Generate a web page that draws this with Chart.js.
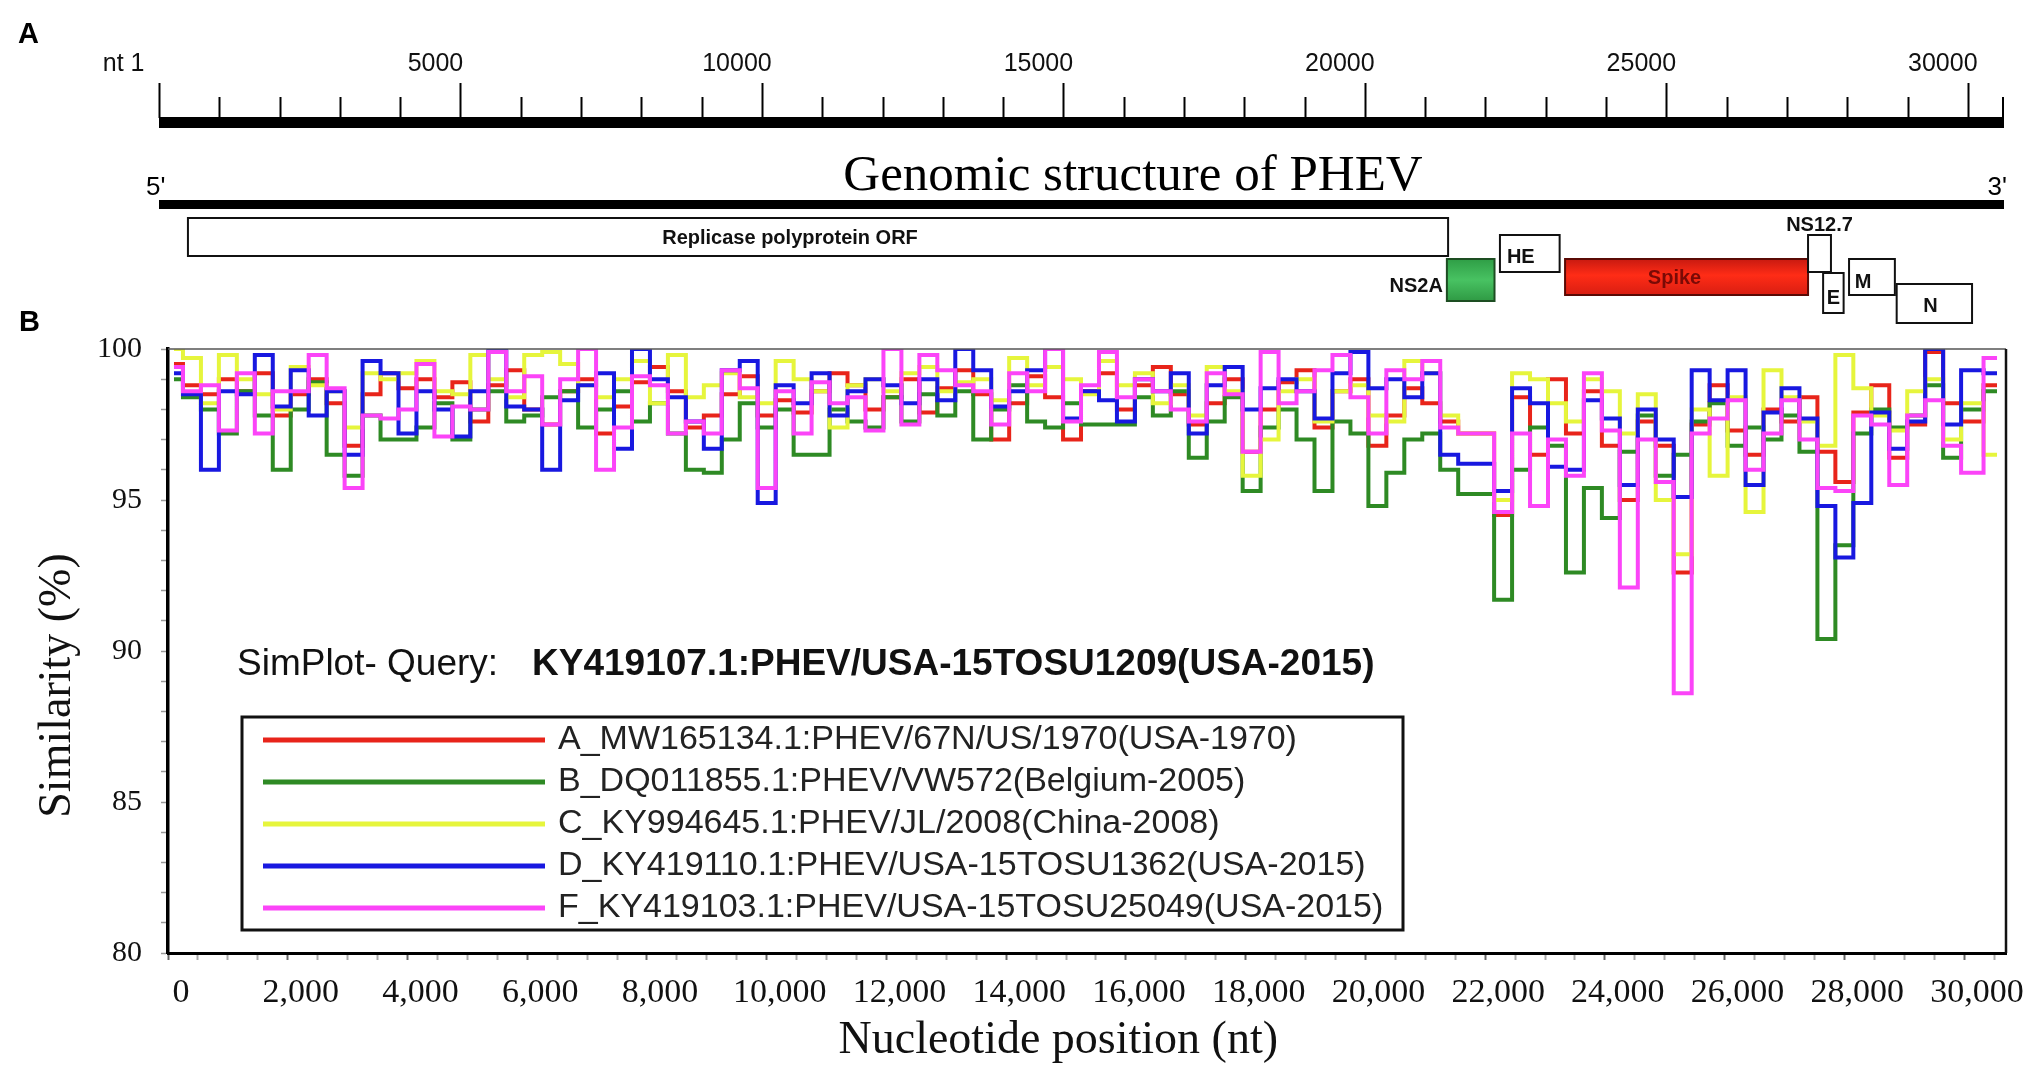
<!DOCTYPE html>
<html>
<head>
<meta charset="utf-8">
<title>PHEV genome and SimPlot similarity</title>
<script src="https://cdn.jsdelivr.net/npm/chart.js@4.4.1/dist/chart.umd.min.js"></script>
<style>
  html, body { margin: 0; padding: 0; background: #fff; overflow: hidden; }
  canvas { position: absolute; left: 0; top: 0; }
</style>
</head>
<body>
<canvas id="plotB" width="2033" height="1071"></canvas>
<canvas id="plotA" width="2033" height="340"></canvas>
<script>
const SANS = "'Liberation Sans', Arial, sans-serif";
const SERIF = "'Liberation Serif', 'Times New Roman', serif";

// ---- panel A: genome map (nt coordinates) ----
const geneNames = ['Replicase polyprotein ORF', 'NS2A', 'HE', 'Spike', 'NS12.7', 'E', 'M', 'N'];
const geneStart = [480, 21360, 22240, 23320, 27350, 27600, 28030, 28820];
const geneEnd   = [21380, 22150, 23230, 27350, 27730, 27940, 28790, 30070];

// ---- panel B: similarity plot ----
const positions = [100, 400, 700, 1000, 1300, 1600, 1900, 2200, 2500, 2800,
  3100, 3400, 3700, 4000, 4300, 4600, 4900, 5200, 5500, 5800,
  6100, 6400, 6700, 7000, 7300, 7600, 7900, 8200, 8500, 8800,
  9100, 9400, 9700, 10000, 10300, 10600, 10900, 11200, 11500, 11800,
  12100, 12400, 12700, 13000, 13300, 13600, 13900, 14200, 14500, 14800,
  15100, 15400, 15700, 16000, 16300, 16600, 16900, 17200, 17500, 17800,
  18100, 18400, 18700, 19000, 19300, 19600, 19900, 20200, 20500, 20800,
  21100, 21400, 21700, 22000, 22300, 22600, 22900, 23200, 23500, 23800,
  24100, 24400, 24700, 25000, 25300, 25600, 25900, 26200, 26500, 26800,
  27100, 27400, 27700, 28000, 28300, 28600, 28900, 29200, 29500, 29800,
  30100, 30550];

const simA = [99.5, 98.8, 98.5, 99.0, 98.6, 99.2, 97.8, 98.5, 99.0, 98.2,
  96.8, 98.5, 99.2, 98.7, 99.0, 98.4, 98.9, 97.6, 98.8, 99.3,
  98.0, 97.5, 98.6, 99.0, 97.2, 98.1, 98.9, 99.4, 98.6, 97.4,
  97.8, 98.5, 99.1, 97.8, 98.3, 97.9, 98.6, 99.2, 98.8, 98.0,
  98.4, 99.0, 97.9, 98.7, 99.3, 98.5, 97.0, 98.2, 99.1, 98.4,
  97.0, 98.6, 99.2, 98.0, 98.8, 99.4, 98.5, 97.5, 98.2, 99.0,
  96.6, 98.0, 98.9, 99.3, 97.4, 98.6, 99.0, 96.8, 97.8, 98.7,
  98.2, 97.6, 97.2, 97.2, 94.5, 98.4, 96.5, 99.0, 97.2, 98.6,
  96.8, 95.0, 97.6, 96.8, 92.6, 97.5, 98.8, 97.3, 96.5, 98.0,
  97.6, 98.4, 96.6, 95.6, 97.9, 98.8, 96.4, 97.5, 99.9, 98.2,
  97.6, 98.8];

const simB = [99.0, 98.4, 98.0, 97.2, 98.6, 97.8, 96.0, 98.0, 98.9, 96.5,
  95.8, 97.8, 97.0, 97.0, 97.4, 98.2, 97.0, 98.0, 98.6, 97.6,
  97.8, 98.4, 98.6, 97.4, 98.0, 98.6, 97.6, 98.2, 97.2, 96.0,
  95.9, 97.0, 98.2, 97.4, 98.0, 96.5, 96.5, 98.0, 97.6, 97.4,
  98.4, 97.6, 98.5, 97.8, 98.6, 97.0, 98.0, 98.8, 97.6, 97.4,
  98.2, 97.5, 97.5, 97.5, 98.4, 97.8, 98.6, 96.4, 97.6, 98.4,
  95.3, 97.4, 98.0, 97.0, 95.3, 97.6, 97.2, 94.8, 95.9, 97.0,
  97.2, 96.0, 95.2, 95.2, 91.7, 96.0, 97.4, 96.8, 92.6, 95.4,
  94.4, 96.6, 97.8, 95.8, 96.5, 97.6, 98.2, 96.8, 97.4, 97.0,
  97.8, 96.6, 90.4, 93.5, 97.2, 98.0, 97.4, 97.8, 98.8, 96.4,
  98.0, 98.6];

const simC = [100, 99.7, 98.2, 99.8, 99.0, 98.5, 98.0, 99.4, 98.8, 98.6,
  97.4, 99.2, 99.0, 99.2, 99.6, 98.6, 98.5, 99.8, 99.0, 98.4,
  99.8, 99.9, 99.5, 98.8, 98.4, 99.0, 99.6, 98.2, 99.8, 98.4,
  98.8, 99.2, 98.4, 98.2, 99.6, 99.0, 98.6, 97.4, 98.8, 99.0,
  98.6, 99.2, 99.4, 98.6, 98.9, 99.0, 98.3, 99.7, 98.8, 99.4,
  99.0, 98.5, 99.6, 98.8, 99.2, 98.2, 98.8, 97.8, 99.4, 98.6,
  95.8, 97.0, 98.6, 99.0, 97.6, 98.6, 98.8, 97.8, 97.6, 99.6,
  99.2, 97.8, 97.2, 97.2, 95.0, 99.2, 99.0, 98.2, 97.6, 99.0,
  98.6, 97.2, 98.5, 95.0, 93.2, 98.0, 95.8, 98.4, 94.6, 99.3,
  98.4, 97.6, 96.8, 99.8, 98.7, 97.8, 97.3, 98.6, 99.0, 97.0,
  98.2, 96.5];

const simD = [99.2, 98.5, 96.0, 98.6, 98.5, 99.8, 98.1, 99.3, 97.8, 98.6,
  96.5, 99.6, 99.2, 97.2, 98.6, 98.0, 97.1, 98.6, 100, 98.1,
  98.0, 96.0, 98.3, 98.8, 99.2, 96.7, 100, 99.0, 98.4, 97.6,
  96.7, 99.3, 99.6, 94.9, 98.8, 98.2, 99.2, 97.8, 98.6, 99.0,
  98.8, 98.2, 99.0, 98.3, 100, 99.3, 98.1, 98.6, 99.3, 100,
  97.7, 98.6, 98.3, 97.6, 99.0, 98.6, 99.2, 97.2, 98.8, 99.4,
  98.0, 98.7, 99.0, 98.6, 97.7, 99.2, 99.9, 98.7, 99.0, 98.4,
  99.2, 96.5, 96.2, 96.2, 95.3, 98.7, 98.2, 96.1, 96.0, 98.3,
  97.7, 95.5, 98.0, 97.0, 95.1, 99.3, 98.3, 99.3, 95.5, 97.9,
  98.7, 97.7, 94.8, 93.1, 94.9, 97.9, 96.7, 97.6, 100, 97.5,
  99.3, 99.2];

const simF = [99.4, 98.6, 98.8, 97.3, 99.2, 97.2, 98.6, 98.6, 99.8, 98.7,
  95.4, 97.8, 97.7, 98.0, 99.5, 97.1, 98.1, 98.0, 99.9, 98.6,
  99.1, 97.5, 99.0, 100, 96.0, 97.4, 99.1, 98.8, 97.2, 97.6,
  97.2, 99.3, 98.7, 95.4, 98.6, 97.2, 98.9, 98.2, 98.4, 97.3,
  100, 97.5, 99.8, 99.3, 98.8, 98.6, 97.5, 99.2, 98.6, 100,
  97.6, 98.8, 99.9, 98.4, 99.0, 98.6, 98.0, 97.6, 99.2, 98.5,
  96.6, 99.9, 98.2, 98.6, 99.3, 99.8, 98.4, 97.2, 99.3, 99.0,
  99.6, 97.4, 97.2, 97.2, 94.6, 97.2, 94.8, 97.0, 95.8, 99.2,
  97.3, 92.1, 97.0, 95.6, 88.6, 97.2, 97.7, 98.3, 96.0, 97.2,
  98.3, 97.0, 95.4, 95.3, 97.8, 97.5, 95.5, 97.8, 98.3, 96.8,
  95.9, 99.7];

const seriesLabels = [
  'A_MW165134.1:PHEV/67N/US/1970(USA-1970)',
  'B_DQ011855.1:PHEV/VW572(Belgium-2005)',
  'C_KY994645.1:PHEV/JL/2008(China-2008)',
  'D_KY419110.1:PHEV/USA-15TOSU1362(USA-2015)',
  'F_KY419103.1:PHEV/USA-15TOSU25049(USA-2015)'
];
const seriesValues = [simA, simB, simC, simD, simF];
const seriesColors = ['#e8241a', '#2e8a24', '#e6f53c', '#1818e0', '#fb44f8'];

const queryPrefix = 'SimPlot- Query:';
const queryName = 'KY419107.1:PHEV/USA-15TOSU1209(USA-2015)';

// layout of the genome map (pixels, not data)
const geneTop    = [218, 259, 235, 259, 235, 273, 259, 284];
const geneHeight = [38, 42, 37, 36, 37, 40, 36, 39];
const geneLabelDx = [-28, 0, -9, -12, 0, 0, -9, -4];
const geneLabelY  = [238, 286, 257, 278, 225, 298, 282, 306];

const genomeMap = {
  id: 'genomeMap',
  afterDraw(chart) {
    const { ctx } = chart;
    const xs = chart.scales.x;
    const px = v => xs.getPixelForValue(v);
    ctx.save();

    // panel letters
    ctx.fillStyle = '#000';
    ctx.font = 'bold 29px ' + SANS;
    ctx.textAlign = 'left';
    ctx.textBaseline = 'alphabetic';
    ctx.fillText('A', 18, 43);
    ctx.fillText('B', 19, 331);

    // ruler
    const x0 = px(xs.min), x1 = px(xs.max);
    ctx.fillRect(x0, 117, x1 - x0, 11);
    ctx.strokeStyle = '#000';
    ctx.lineWidth = 2;
    for (let v = 0; v <= 30000; v += 1000) {
      const x = Math.round(px(v)) + 0.5;
      ctx.beginPath();
      ctx.moveTo(x, v % 5000 === 0 ? 83 : 97);
      ctx.lineTo(x, 118);
      ctx.stroke();
    }
    ctx.beginPath();
    ctx.moveTo(x1 - 1, 97);
    ctx.lineTo(x1 - 1, 118);
    ctx.stroke();

    // genome line
    ctx.fillRect(x0, 200, x1 - x0, 9);
    ctx.font = '26px ' + SANS;
    ctx.textBaseline = 'alphabetic';
    ctx.textAlign = 'left';
    ctx.fillText("5'", 146, 195);
    ctx.textAlign = 'right';
    ctx.fillText("3'", 2007, 195);
    ctx.textAlign = 'center';
    ctx.font = '51px ' + SERIF;
    ctx.fillText('Genomic structure of PHEV', 1133, 190);

    // gene boxes
    geneNames.forEach((name, i) => {
      const gx = px(geneStart[i]);
      const gw = px(geneEnd[i]) - gx;
      const gy = geneTop[i], gh = geneHeight[i];
      let fill = '#fff', stroke = '#111', textColor = '#111';
      if (name === 'NS2A') {
        const g = ctx.createLinearGradient(0, gy, 0, gy + gh);
        g.addColorStop(0, '#2f9e46');
        g.addColorStop(0.5, '#48c262');
        g.addColorStop(1, '#2f9a44');
        fill = g; stroke = '#1d4d22';
      } else if (name === 'Spike') {
        const g = ctx.createLinearGradient(0, gy, 0, gy + gh);
        g.addColorStop(0, '#c81a10');
        g.addColorStop(0.45, '#ff2c16');
        g.addColorStop(1, '#d81e12');
        fill = g; stroke = '#5a0a05'; textColor = '#7a0a06';
      }
      ctx.fillStyle = fill;
      ctx.fillRect(gx, gy, gw, gh);
      ctx.strokeStyle = stroke;
      ctx.lineWidth = 2;
      ctx.strokeRect(gx, gy, gw, gh);

      ctx.fillStyle = textColor;
      ctx.font = 'bold 20px ' + SANS;
      ctx.textBaseline = 'middle';
      if (name === 'NS2A') {
        ctx.textAlign = 'right';
        ctx.fillText(name, gx - 4, geneLabelY[i]);
      } else {
        ctx.textAlign = 'center';
        ctx.fillText(name, gx + gw / 2 + geneLabelDx[i], geneLabelY[i]);
      }
    });
    ctx.restore();
  }
};

new Chart(document.getElementById('plotA'), {
  type: 'line',
  data: { datasets: [] },
  options: {
    responsive: false,
    animation: false,
    layout: { autoPadding: false, padding: { left: 159, right: 29, top: 0, bottom: 0 } },
    plugins: { legend: { display: false }, tooltip: { enabled: false } },
    scales: {
      x: {
        type: 'linear',
        position: 'top',
        min: 0,
        max: 30600,
        afterFit: s => { s.height = 128; },
        // invisible tick length pushes the labels up without widening the side padding
        grid: { display: false, drawTicks: true, tickLength: 46 },
        border: { display: false },
        ticks: {
          stepSize: 200,
          includeBounds: false,
          autoSkip: false,
          maxRotation: 0,
          padding: 3,
          labelOffset: -25,
          color: '#111',
          font: { family: SANS, size: 25 },
          callback: v => (v === 0 ? 'nt 1   ' : (v % 5000 === 0 ? String(v) : ''))
        }
      },
      y: { display: false, min: 0, max: 1 }
    }
  },
  plugins: [genomeMap]
});

// frame, query caption and legend drawn inside the plot
const legendBox = { left: 242, top: 717, right: 1403, bottom: 930 };

const frameAndLegend = {
  id: 'frameAndLegend',
  afterDraw(chart) {
    const { ctx, chartArea: a } = chart;
    ctx.save();
    ctx.strokeStyle = '#555';
    ctx.lineWidth = 1.5;
    ctx.beginPath();
    ctx.moveTo(a.left, a.top);
    ctx.lineTo(a.right, a.top);
    ctx.stroke();
    ctx.strokeStyle = '#111';
    ctx.lineWidth = 2.5;
    ctx.beginPath();
    ctx.moveTo(a.right, a.top);
    ctx.lineTo(a.right, a.bottom);
    ctx.stroke();

    // query caption
    ctx.fillStyle = '#111';
    ctx.textBaseline = 'middle';
    ctx.textAlign = 'left';
    ctx.font = '37px ' + SANS;
    ctx.fillText(queryPrefix, 237, 665);
    ctx.font = 'bold 37px ' + SANS;
    ctx.fillText(queryName, 532, 665);

    // legend
    const b = legendBox;
    ctx.fillStyle = '#fff';
    ctx.fillRect(b.left, b.top, b.right - b.left, b.bottom - b.top);
    ctx.strokeStyle = '#111';
    ctx.lineWidth = 3;
    ctx.strokeRect(b.left, b.top, b.right - b.left, b.bottom - b.top);
    ctx.font = '34px ' + SANS;
    chart.data.datasets.forEach((ds, k) => {
      const y = b.top + 23 + k * 42;
      ctx.strokeStyle = ds.borderColor;
      ctx.lineWidth = 5;
      ctx.beginPath();
      ctx.moveTo(263, y);
      ctx.lineTo(545, y);
      ctx.stroke();
      ctx.fillStyle = '#222';
      ctx.fillText(ds.label, 558, y);
    });
    ctx.restore();
  }
};

new Chart(document.getElementById('plotB'), {
  type: 'line',
  data: {
    datasets: seriesLabels.map((label, k) => ({
      label,
      data: positions.map((x, i) => ({ x, y: seriesValues[k][i] })),
      borderColor: seriesColors[k],
      borderWidth: 4,
      pointRadius: 0,
      stepped: 'middle',
      fill: false,
      order: seriesLabels.length - k
    }))
  },
  options: {
    responsive: false,
    animation: false,
    layout: { autoPadding: false, padding: { left: 0, top: 349, right: 27, bottom: 0 } },
    plugins: { legend: { display: false }, tooltip: { enabled: false } },
    scales: {
      x: {
        type: 'linear',
        min: 0,
        max: 30700,
        afterFit: s => { s.height = 118; },
        border: { color: '#000', width: 3 },
        grid: {
          drawOnChartArea: false,
          tickLength: 7,
          tickWidth: 2,
          tickColor: c => {
            const v = c.tick ? c.tick.value : 1;
            if (v % 2000 === 0) return '#666';
            if (v % 500 === 0) return '#aaa';
            return 'rgba(0,0,0,0)';
          }
        },
        ticks: {
          stepSize: 100,
          includeBounds: false,
          autoSkip: false,
          maxRotation: 0,
          padding: 13,
          labelOffset: 13,
          color: '#111',
          font: { family: SERIF, size: 34 },
          callback: v => (v % 2000 === 0 ? v.toLocaleString('en-US') : '')
        },
        title: {
          display: true,
          text: 'Nucleotide position (nt)     ',
          color: '#111',
          font: { family: SERIF, size: 46 },
          padding: { top: 0, bottom: 2 }
        }
      },
      y: {
        min: 80,
        max: 100,
        afterFit: s => { s.width = 168; },
        border: { color: '#000', width: 3.5 },
        grid: { drawOnChartArea: false, tickLength: 7, tickWidth: 1.5, tickColor: '#999' },
        ticks: {
          stepSize: 1,
          autoSkip: false,
          padding: 19,
          color: '#111',
          font: { family: SERIF, size: 30 },
          callback: v => (v % 5 === 0 ? String(v) : '')
        },
        title: {
          display: true,
          text: 'Similarity (%)      ',
          color: '#111',
          font: { family: SERIF, size: 46 },
          padding: { top: 30, bottom: 0 }
        }
      }
    }
  },
  plugins: [frameAndLegend]
});
</script>
</body>
</html>
